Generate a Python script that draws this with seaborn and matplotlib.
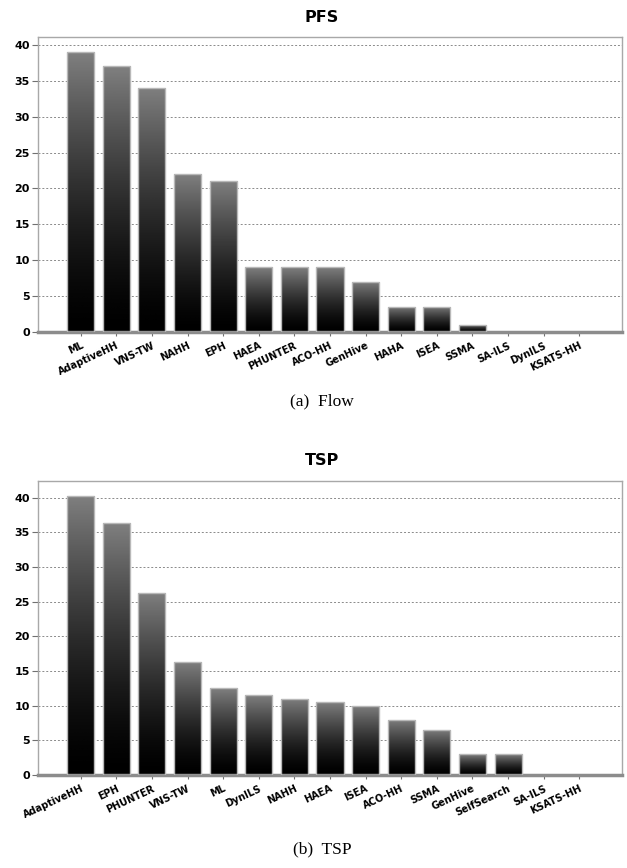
import numpy as np
import matplotlib
matplotlib.use("Agg")
import matplotlib.pyplot as plt
import seaborn as sns

pfs_labels = ["ML", "AdaptiveHH", "VNS-TW", "NAHH", "EPH", "HAEA", "PHUNTER", "ACO-HH",
              "GenHive", "HAHA", "ISEA", "SSMA", "SA-ILS", "DynILS", "KSATS-HH"]
pfs_values = [39, 37, 34, 22, 21, 9, 9, 9, 7, 3.5, 3.5, 1, 0, 0, 0]

tsp_labels = ["AdaptiveHH", "EPH", "PHUNTER", "VNS-TW", "ML", "DynILS", "NAHH", "HAEA",
              "ISEA", "ACO-HH", "SSMA", "GenHive", "SelfSearch", "SA-ILS", "KSATS-HH"]
tsp_values = [40.3, 36.3, 26.3, 16.3, 12.5, 11.5, 11.0, 10.5, 10.0, 8.0, 6.5, 3.0, 3.0, 0, 0]

sns.set_theme(style="white")
plt.rcParams['font.family'] = ['DejaVu Sans']
plt.rcParams['text.color'] = 'black'
plt.rcParams['xtick.labelcolor'] = 'black'
plt.rcParams['ytick.labelcolor'] = 'black'

W, H = 627, 868
fig = plt.figure(figsize=(W / 100, H / 100), dpi=100)

grad = np.linspace(0, 1, 256) ** 1.5  # 0 at bottom, 1 at top
grad_img = (grad * 0.5)[:, None]


def panel(rect, labels, values, ytop, title, title_y, caption, caption_y):
    ax = fig.add_axes(rect)
    sns.barplot(x=labels, y=values, ax=ax, color="black", width=0.76,
                edgecolor="#b8b8b8", linewidth=1.0, saturation=1)
    ax.set_axisbelow(True)
    for p in ax.patches:
        h = p.get_height()
        if h <= 0:
            p.set_edgecolor("none")
            continue
        x0 = p.get_x()
        w = p.get_width()
        im = ax.imshow(grad_img, cmap="gray", vmin=0, vmax=1, origin="lower",
                       extent=[x0, x0 + w, 0, h], aspect="auto", zorder=2,
                       interpolation="bicubic")
        im.set_clip_path(p)
        p.set_facecolor("none")
        p.set_zorder(3)
    ax.set_xlim(-1.2, len(labels) - 1 + 1.2)
    ax.set_ylim(0, ytop)
    ax.set_yticks(np.arange(0, 41, 5))
    ax.yaxis.grid(True, color="#8a8a8a", linestyle=(0, (2, 2)), linewidth=0.7)
    ax.xaxis.grid(False)
    for s in ["top", "right", "left"]:
        ax.spines[s].set_color("#a8a8a8")
        ax.spines[s].set_linewidth(1.0)
    ax.spines["bottom"].set_color("#8c8c8c")
    ax.spines["bottom"].set_linewidth(2.5)
    ax.tick_params(axis="y", which="both", left=True, length=4, width=0.8,
                   color="#707070", labelsize=8, pad=2, labelcolor="black")
    ax.tick_params(axis="x", which="both", bottom=True, length=3, width=0.8,
                   color="#707070", labelsize=7, pad=3, labelcolor="black")
    for t in ax.get_yticklabels():
        t.set_fontweight("bold")
    for t in ax.get_xticklabels():
        t.set_fontweight("bold")
        t.set_rotation(25)
        t.set_ha("right")
        t.set_rotation_mode("anchor")
    ax.set_xlabel("")
    ax.set_ylabel("")
    fig.text(322 / W, 1 - title_y / H, title, ha="center", va="center",
             fontsize=11.5, fontweight="bold", color="black")
    fig.text(322 / W, 1 - caption_y / H, caption, ha="center", va="center",
             fontsize=12.5, family=["Liberation Serif", "DejaVu Serif"], color="black")
    return ax


panel([38 / W, 1 - 332 / H, 584 / W, 295 / H], pfs_labels, pfs_values, 41.1,
      "PFS", 18, "(a)  Flow", 401)
panel([38 / W, 1 - 775 / H, 584 / W, 294 / H], tsp_labels, tsp_values, 42.4,
      "TSP", 460, "(b)  TSP", 849)

fig.savefig("out.png", dpi=100, facecolor="white")
